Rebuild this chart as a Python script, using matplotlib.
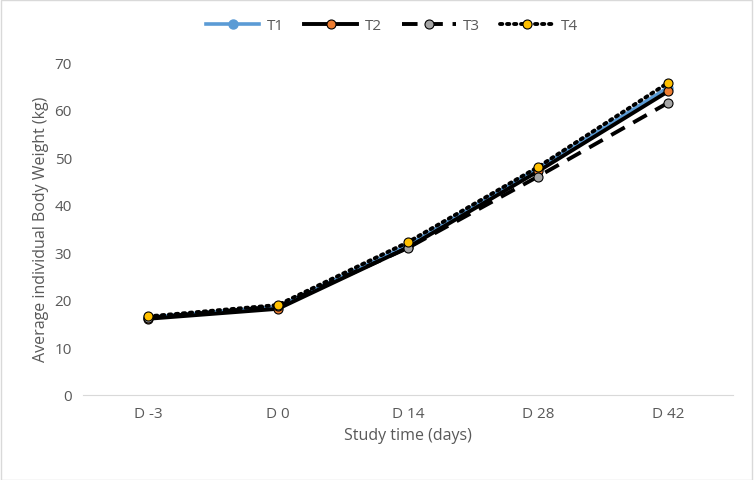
import matplotlib.pyplot as plt

plt.rcParams['font.family'] = ['Open Sans', 'DejaVu Sans']

days = ['D -3', 'D 0', 'D 14', 'D 28', 'D 42']
t1 = [16.3, 18.5, 31.5, 47.6, 64.6]
t2 = [16.0, 18.1, 31.0, 47.0, 63.8]
t3 = [16.2, 18.6, 30.9, 45.9, 61.4]
t4 = [16.5, 18.9, 32.1, 47.9, 65.6]

gray = '#595959'
fig = plt.figure(figsize=(7.54, 4.81), dpi=100)
ax = fig.add_axes([0.110, 0.177, 0.862, 0.692])

x = range(len(days))
ax.plot(x, t1, color='#5b9bd5', lw=2.6, marker='o', ms=6.5, mfc='#5b9bd5', mec='#5b9bd5', label='T1', zorder=2)
ax.plot(x, t2, color='black', lw=2.8, marker='o', ms=6.5, mfc='#ed7d31', mec='black', mew=0.8, label='T2', zorder=3)
ax.plot(x, t3, color='black', lw=2.8, ls=(0, (4, 2.5)), marker='o', ms=6.5, mfc='#a5a5a5', mec='black', mew=0.8, label='T3', zorder=3)
ax.plot(x, t4, color='black', lw=2.8, ls=(0, (0.6, 1.2)), dash_capstyle='round', marker='o', ms=6.5, mfc='#ffc000', mec='black', mew=0.8, label='T4', zorder=4)

ax.set_xlim(-0.5, 4.5)
ax.set_ylim(0, 70)
ax.set_yticks(range(0, 71, 10))
ax.set_xticks(list(x))
ax.set_xticklabels(days)
for s in ['top', 'right', 'left']:
    ax.spines[s].set_visible(False)
ax.spines['bottom'].set_color('#d9d9d9')
ax.tick_params(axis='both', length=0, colors=gray, labelsize=11, pad=8)
ax.set_xlabel('Study time (days)', color=gray, fontsize=11.5)
ax.set_ylabel('Average individual Body Weight (kg)', color=gray, fontsize=11.5)

leg = fig.legend(*ax.get_legend_handles_labels(), loc='center', bbox_to_anchor=(0.52, 0.944), ncol=4,
                 frameon=False, fontsize=11, handlelength=3.5, columnspacing=1.3, handletextpad=0.5)
for t in leg.get_texts():
    t.set_color(gray)

fig.patches.append(plt.Rectangle((0.001, 0.001), 0.997, 0.997, transform=fig.transFigure,
                                 fill=False, edgecolor='#d9d9d9', lw=1))
fig.savefig('out.png', dpi=100)
